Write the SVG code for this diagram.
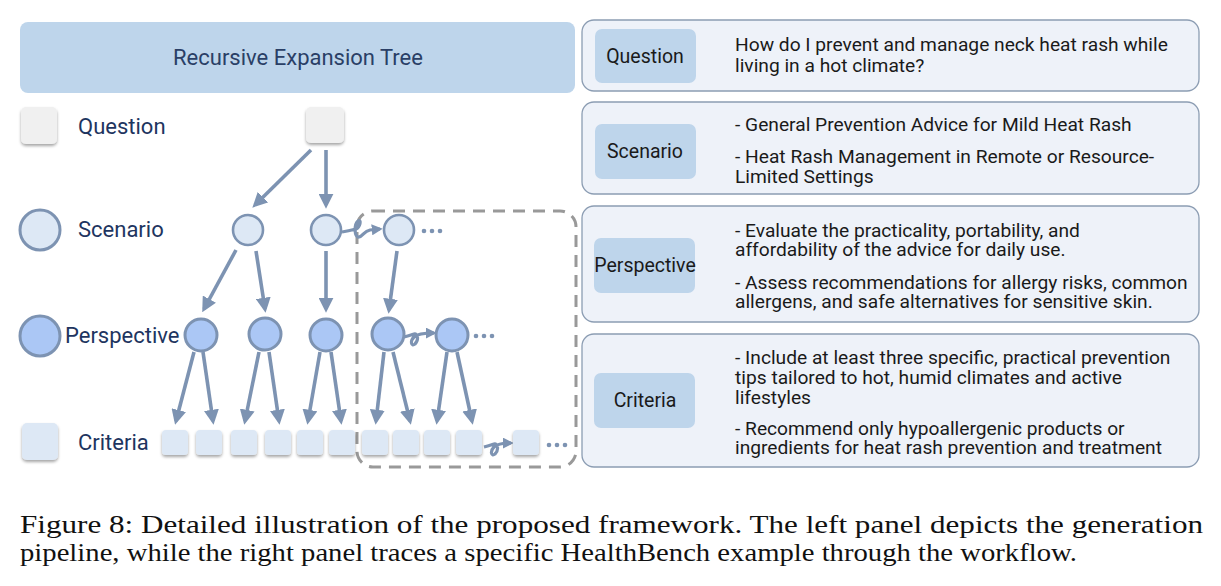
<svg xmlns="http://www.w3.org/2000/svg" width="1221" height="586" viewBox="0 0 1221 586">
<style>
.lbl{font-family:Roboto,"Liberation Sans",sans-serif;fill:#1e3560;font-size:22px}
.ptxt{font-family:Roboto,"Liberation Sans",sans-serif;fill:#1a1a1a;font-size:19.2px}
.plbl{font-family:Roboto,"Liberation Sans",sans-serif;fill:#1a1a1a;font-size:19.5px;text-anchor:middle}
.panel{fill:#eef2f9;stroke:#8c9db3;stroke-width:1.3}
.pbox{fill:#bed5eb}
.sq{fill:#f0f0f0;filter:url(#sh)}
.crit{fill:#dde8f5;filter:url(#sh)}
.scen{fill:#dde8f5;stroke:#7d93b2;stroke-width:2.6}
.persp{fill:#abc7f5;stroke:#7d93b2;stroke-width:3}
.arr{stroke:#7d93b2;stroke-width:3.6;fill:none;marker-end:url(#ah)}
.sq-arr{stroke:#7d93b2;stroke-width:3.2;fill:none;marker-end:url(#ah2)}
.dot{fill:#7d93b2}
.cap{font-family:"Liberation Serif","DejaVu Serif",serif;fill:#111;font-size:26px}
</style>
<defs>
<filter id="sh" x="-30%" y="-30%" width="160%" height="170%">
<feDropShadow dx="0" dy="2" stdDeviation="1.4" flood-color="#000" flood-opacity="0.35"/>
</filter>
<marker id="ah" viewBox="0 0 12 12" markerWidth="15" markerHeight="15" refX="9" refY="6" orient="auto" markerUnits="userSpaceOnUse">
<path d="M0,0 L12,6 L0,12 z" fill="#7d93b2"/>
</marker>
<marker id="ah2" viewBox="0 0 12 12" markerWidth="11" markerHeight="11" refX="9" refY="6" orient="auto" markerUnits="userSpaceOnUse">
<path d="M0,0 L12,6 L0,12 z" fill="#7d93b2"/>
</marker>
</defs>
<rect width="1221" height="586" fill="#ffffff"/>

<g id="title">
<rect x="20" y="22" width="555" height="71" rx="8" fill="#bed5eb"/>
<text x="298" y="65" class="lbl" text-anchor="middle" style="fill:#2a3f66">Recursive Expansion Tree</text>
</g>

<g id="legend">
<g id="legend-question"><rect x="21" y="107" width="36" height="37" rx="5" class="sq"/><text x="78" y="134" class="lbl">Question</text></g>
<g id="legend-scenario"><circle cx="40" cy="230" r="20" class="scen" style="stroke-width:3"/><text x="78" y="237" class="lbl">Scenario</text></g>
<g id="legend-perspective"><circle cx="40" cy="336" r="20" class="persp"/><text x="65" y="343" class="lbl">Perspective</text></g>
<g id="legend-criteria"><rect x="22" y="423" width="36" height="37" rx="5" class="crit"/><text x="78" y="450" class="lbl">Criteria</text></g>
</g>

<g id="dashed-box">
<rect x="357" y="211" width="219" height="256" rx="16" fill="none" stroke="#999999" stroke-width="3" stroke-dasharray="12 8"/>
</g>

<g id="connectors">
<line x1="311" y1="150" x2="255" y2="205" class="arr"/>
<line x1="326" y1="150" x2="326" y2="205" class="arr"/>
<line x1="236" y1="250" x2="204" y2="309" class="arr"/>
<line x1="256" y1="251" x2="265" y2="309" class="arr"/>
<line x1="326" y1="251" x2="326" y2="309" class="arr"/>
<line x1="397" y1="251" x2="389" y2="310" class="arr"/>
<line x1="194" y1="352" x2="176" y2="421" class="arr"/>
<line x1="203" y1="352" x2="213" y2="421" class="arr"/>
<line x1="259" y1="352" x2="245" y2="421" class="arr"/>
<line x1="269" y1="352" x2="279" y2="421" class="arr"/>
<line x1="320" y1="352" x2="308" y2="421" class="arr"/>
<line x1="331" y1="352" x2="341" y2="421" class="arr"/>
<line x1="384" y1="352" x2="376" y2="421" class="arr"/>
<line x1="393" y1="352" x2="410" y2="421" class="arr"/>
<line x1="447" y1="352" x2="437" y2="421" class="arr"/>
<line x1="457" y1="352" x2="472" y2="421" class="arr"/>
<path d="M342,232 C348,231 352,230 356,229 C360,227 362,219 358,221 C354,224 354,238 359,237 C363,236 364,231 370,230 L380,229" class="sq-arr"/>
<path d="M404,337 C408,336 411,335 414,334 C418,333 419,340 415,344 C411,347 410,341 414,337 C417,334 422,333 434,333" class="sq-arr"/>
<path d="M484,447 C488,446 491,445 494,444 C498,443 499,450 495,454 C491,457 490,451 494,447 C497,444 502,443 511,443" class="sq-arr"/>
</g>

<g id="tree-question"><rect x="306" y="107" width="38" height="36" rx="5" class="sq"/></g>
<g id="scenario-1"><circle cx="248" cy="230" r="15" class="scen"/></g>
<g id="scenario-2"><circle cx="326" cy="230" r="15" class="scen"/></g>
<g id="scenario-3"><circle cx="399" cy="230" r="15" class="scen"/><circle cx="424" cy="231" r="2.3" class="dot"/><circle cx="432" cy="231" r="2.3" class="dot"/><circle cx="440" cy="231" r="2.3" class="dot"/></g>
<g id="perspective-1"><circle cx="201" cy="335" r="16" class="persp"/></g>
<g id="perspective-2"><circle cx="265" cy="334" r="16" class="persp"/></g>
<g id="perspective-3"><circle cx="326" cy="335" r="16" class="persp"/></g>
<g id="perspective-4"><circle cx="388" cy="334" r="16" class="persp"/></g>
<g id="perspective-5"><circle cx="452" cy="335" r="16" class="persp"/><circle cx="476" cy="336" r="2.3" class="dot"/><circle cx="484" cy="336" r="2.3" class="dot"/><circle cx="492" cy="336" r="2.3" class="dot"/></g>

<g id="criteria-row">
<rect x="162" y="430" width="26" height="25" rx="4" class="crit"/>
<rect x="196" y="430" width="26" height="25" rx="4" class="crit"/>
<rect x="231" y="430" width="26" height="25" rx="4" class="crit"/>
<rect x="265" y="430" width="26" height="25" rx="4" class="crit"/>
<rect x="297" y="430" width="26" height="25" rx="4" class="crit"/>
<rect x="329" y="430" width="26" height="25" rx="4" class="crit"/>
<rect x="362" y="430" width="26" height="25" rx="4" class="crit"/>
<rect x="393" y="430" width="26" height="25" rx="4" class="crit"/>
<rect x="424" y="430" width="26" height="25" rx="4" class="crit"/>
<rect x="456" y="430" width="26" height="25" rx="4" class="crit"/>
<rect x="513" y="430" width="26" height="25" rx="4" class="crit"/>
<circle cx="549" cy="445" r="2.3" class="dot"/><circle cx="557" cy="445" r="2.3" class="dot"/><circle cx="565" cy="445" r="2.3" class="dot"/>
</g>

<g id="panel-question">
<rect x="582" y="20" width="617" height="71" rx="12" class="panel"/>
<rect x="595" y="29" width="101" height="54" rx="7" class="pbox"/>
<text x="645" y="63" class="plbl">Question</text>
<text x="735" y="51" class="ptxt">How do I prevent and manage neck heat rash while</text>
<text x="735" y="72" class="ptxt">living in a hot climate?</text>
</g>

<g id="panel-scenario">
<rect x="582" y="102" width="617" height="92" rx="12" class="panel"/>
<rect x="595" y="124" width="101" height="55" rx="7" class="pbox"/>
<text x="645" y="158" class="plbl">Scenario</text>
<text x="735" y="131" class="ptxt">- General Prevention Advice for Mild Heat Rash</text>
<text x="735" y="163" class="ptxt">- Heat Rash Management in Remote or Resource-</text>
<text x="735" y="183" class="ptxt">Limited Settings</text>
</g>

<g id="panel-perspective">
<rect x="582" y="206" width="617" height="116" rx="12" class="panel"/>
<rect x="594" y="238" width="101" height="55" rx="7" class="pbox"/>
<text x="645" y="272" class="plbl">Perspective</text>
<text x="735" y="237" class="ptxt">- Evaluate the practicality, portability, and</text>
<text x="735" y="256" class="ptxt">affordability of the advice for daily use.</text>
<text x="735" y="289" class="ptxt">- Assess recommendations for allergy risks, common</text>
<text x="735" y="308" class="ptxt">allergens, and safe alternatives for sensitive skin.</text>
</g>

<g id="panel-criteria">
<rect x="582" y="334" width="617" height="133" rx="12" class="panel"/>
<rect x="594" y="373" width="101" height="55" rx="7" class="pbox"/>
<text x="645" y="407" class="plbl">Criteria</text>
<text x="735" y="364" class="ptxt">- Include at least three specific, practical prevention</text>
<text x="735" y="384" class="ptxt">tips tailored to hot, humid climates and active</text>
<text x="735" y="404" class="ptxt">lifestyles</text>
<text x="735" y="435" class="ptxt">- Recommend only hypoallergenic products or</text>
<text x="735" y="454" class="ptxt">ingredients for heat rash prevention and treatment</text>
</g>

<g id="caption">
<text x="20" y="533" class="cap" textLength="1183" lengthAdjust="spacingAndGlyphs">Figure 8: Detailed illustration of the proposed framework. The left panel depicts the generation</text>
<text x="20" y="561" class="cap" textLength="1057" lengthAdjust="spacingAndGlyphs">pipeline, while the right panel traces a specific HealthBench example through the workflow.</text>
</g>
</svg>
